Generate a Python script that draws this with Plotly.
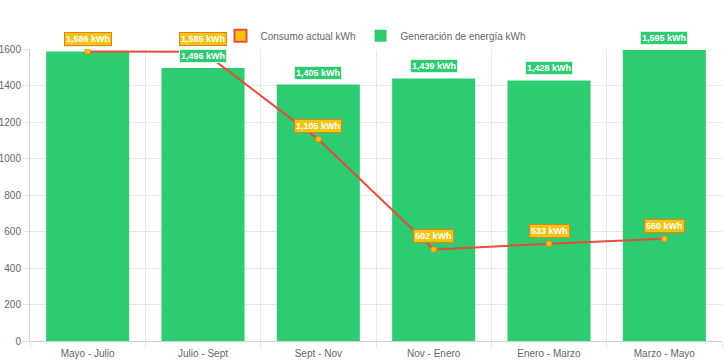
import plotly.graph_objects as go

categories = ["Mayo - Julio", "Julio - Sept", "Sept - Nov", "Nov - Enero", "Enero - Marzo", "Marzo - Mayo"]
generacion = [1586, 1496, 1405, 1439, 1428, 1595]
consumo = [1586, 1585, 1105, 502, 533, 560]
y_ticks = [0, 200, 400, 600, 800, 1000, 1200, 1400, 1600]

GREEN = "#2ecc71"
YELLOW = "#f1c40f"
ORANGE = "#e67e22"
RED = "#e74c3c"
FONT = "Liberation Sans, Arial, sans-serif"

fig = go.Figure()

# Legend-only proxy for line series (box style like Chart.js)
fig.add_trace(go.Bar(
    x=[categories[0]], y=[None], name="Consumo actual kWh",
    marker=dict(color=YELLOW, line=dict(color=RED, width=2)),
    showlegend=True, hoverinfo="skip",
))
fig.add_trace(go.Bar(
    x=categories, y=generacion, name="Generación de energía kWh",
    marker=dict(color=GREEN, line=dict(color=GREEN, width=0)),
    width=0.72,
))
fig.add_trace(go.Scatter(
    x=categories, y=consumo, name="Consumo actual kWh", mode="lines+markers",
    line=dict(color=RED, width=2),
    marker=dict(size=6, color=YELLOW, line=dict(color=ORANGE, width=1)),
    showlegend=False,
))

annotations = []
for c, v in zip(categories, generacion):
    annotations.append(dict(
        x=c, y=v, xref="x", yref="y", text=f"<b>{v:,} kWh</b>", showarrow=False,
        yshift=12, font=dict(family=FONT, size=9, color="white"),
        bgcolor=GREEN, bordercolor="#d9f5e4", borderwidth=1, borderpad=1,
    ))
for c, v in zip(categories, consumo):
    annotations.append(dict(
        x=c, y=v, xref="x", yref="y", text=f"<b>{v:,} kWh</b>", showarrow=False,
        yshift=13, font=dict(family=FONT, size=9, color="white"),
        bgcolor=YELLOW, bordercolor=ORANGE, borderwidth=1, borderpad=1,
    ))

fig.update_layout(
    width=728, height=363,
    margin=dict(l=30, r=6, t=49, b=22),
    paper_bgcolor="white", plot_bgcolor="white",
    barmode="overlay",
    font=dict(family=FONT, size=10, color="#666"),
    legend=dict(orientation="h", x=0.5, xanchor="center", y=1.045, yanchor="middle",
                font=dict(family=FONT, size=10, color="#666"), itemsizing="constant",
                traceorder="normal"),
    annotations=annotations,
    xaxis=dict(
        type="category", tickson="boundaries", showgrid=True, gridcolor="#e8e8e8",
        ticks="outside", ticklen=6, tickcolor="#e8e8e8", showline=True, linecolor="#d0d0d0",
        tickfont=dict(size=10, color="#666"), range=[-0.5, 5.5], automargin=False,
        ticklabelstandoff=3,
    ),
    yaxis=dict(
        range=[0, 1600], tickvals=y_ticks, tickformat="d", showgrid=True, gridcolor="#e8e8e8",
        ticks="outside", ticklen=6, tickcolor="#e8e8e8", showline=True, linecolor="#d0d0d0",
        zeroline=False, tickfont=dict(size=10, color="#666"), automargin=False,
    ),
)

fig.write_html("out.html")
